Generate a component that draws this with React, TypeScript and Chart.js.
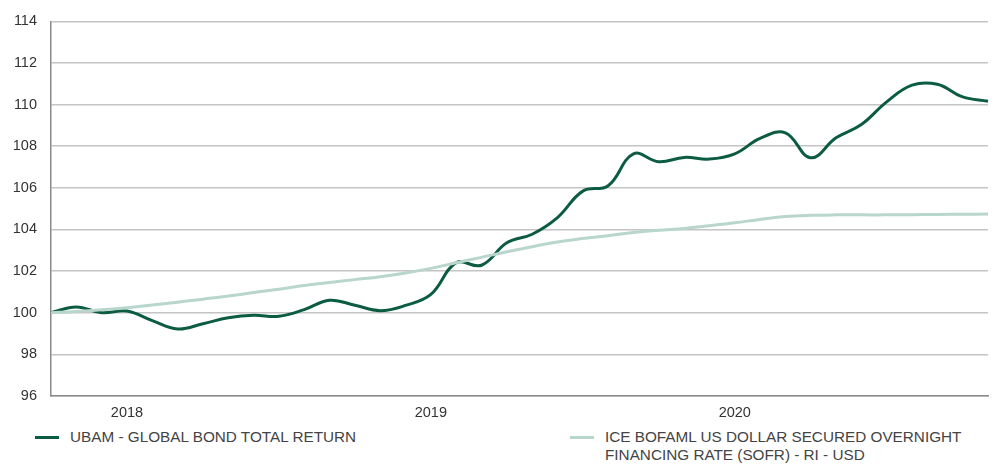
import React, { useEffect, useRef } from "react";
import { Chart, registerables } from "chart.js";

Chart.register(...registerables);

const months: string[] = [
  "Oct 2017", "Nov 2017", "Dec 2017",
  "Jan 2018", "Feb 2018", "Mar 2018", "Apr 2018", "May 2018", "Jun 2018",
  "Jul 2018", "Aug 2018", "Sep 2018", "Oct 2018", "Nov 2018", "Dec 2018",
  "Jan 2019", "Feb 2019", "Mar 2019", "Apr 2019", "May 2019", "Jun 2019",
  "Jul 2019", "Aug 2019", "Sep 2019", "Oct 2019", "Nov 2019", "Dec 2019",
  "Jan 2020", "Feb 2020", "Mar 2020", "Apr 2020", "May 2020", "Jun 2020",
  "Jul 2020", "Aug 2020", "Sep 2020", "Oct 2020", "Nov 2020",
];

const ubamValues: number[] = [
  100.0, 100.28, 100.0, 100.08, 99.62, 99.22, 99.47, 99.76, 99.88, 99.83,
  100.15, 100.6, 100.36, 100.1, 100.35, 100.88, 102.4, 102.28, 103.36, 103.77,
  104.57, 105.84, 106.1, 107.63, 107.25, 107.46, 107.38, 107.63, 108.37, 108.64,
  107.44, 108.4, 109.04, 110.13, 110.93, 110.97, 110.37, 110.16,
];

const sofrValues: number[] = [
  100.0, 100.06, 100.14, 100.24, 100.37, 100.5, 100.65, 100.8, 100.97, 101.13,
  101.31, 101.45, 101.59, 101.73, 101.91, 102.13, 102.4, 102.66, 102.93, 103.17,
  103.4, 103.56, 103.7, 103.85, 103.96, 104.05, 104.18, 104.32, 104.48, 104.62,
  104.68, 104.7, 104.7, 104.7, 104.71, 104.72, 104.73, 104.74,
];

const seriesNames: string[] = [
  "UBAM - GLOBAL BOND TOTAL RETURN",
  "ICE BOFAML US DOLLAR SECURED OVERNIGHT FINANCING RATE (SOFR) - RI - USD",
];

const DARK = "#0b5c40";
const LIGHT = "#b9d6ca";
const FONT = "'Liberation Sans', Arial, Helvetica, sans-serif";

export default function App() {
  const ref = useRef<HTMLCanvasElement | null>(null);

  useEffect(() => {
    if (!ref.current) return;
    const chart = new Chart(ref.current, {
      type: "line",
      data: {
        labels: months,
        datasets: [
          {
            label: seriesNames[1],
            data: sofrValues,
            borderColor: LIGHT,
            borderWidth: 3,
            pointRadius: 0,
            tension: 0.4,
            fill: false,
          },
          {
            label: seriesNames[0],
            data: ubamValues,
            borderColor: DARK,
            borderWidth: 3,
            pointRadius: 0,
            tension: 0.4,
            fill: false,
          },
        ],
      },
      options: {
        animation: false,
        responsive: false,
        maintainAspectRatio: false,
        layout: { padding: { top: 18, right: 9, left: 0, bottom: 0 } },
        plugins: {
          legend: { display: false },
          tooltip: { enabled: false },
        },
        scales: {
          x: {
            type: "category",
            offset: false,
            grid: { display: false, drawTicks: false },
            border: { display: true, color: "#8a8a8a", width: 1.5 },
            ticks: {
              autoSkip: false,
              maxRotation: 0,
              padding: 8,
              color: "#333",
              font: { family: FONT, size: 14.5 },
              callback: (_v: any, i: number) =>
                months[i].startsWith("Jan") ? months[i].slice(4) : "",
            },
            afterFit: (s: any) => {
              s.height = 29;
            },
          },
          y: {
            min: 96,
            max: 114,
            ticks: {
              stepSize: 2,
              padding: 14,
              color: "#333",
              font: { family: FONT, size: 14.5, lineHeight: 1 },
            },
            grid: { color: "#c4c4c4", lineWidth: 1.5, drawTicks: false },
            border: { display: true, color: "#8a8a8a", width: 1.5 },
            afterFit: (s: any) => {
              s.width = 51;
            },
          },
        },
      },
    });
    return () => chart.destroy();
  }, []);

  const legendStyle: React.CSSProperties = {
    position: "absolute",
    top: 428,
    display: "flex",
    alignItems: "flex-start",
    fontFamily: FONT,
    fontSize: 15.3,
    color: "#444",
    whiteSpace: "nowrap",
  };

  return (
    <div style={{ position: "absolute", left: 0, top: 0, width: 997, height: 464, background: "#fff" }}>
      <canvas ref={ref} width={997} height={425} style={{ display: "block" }} />
      <div style={{ ...legendStyle, left: 35 }}>
        <span style={{ display: "inline-block", width: 24, height: 3, background: DARK, marginTop: 8 }} />
        <span style={{ marginLeft: 11, lineHeight: "18px" }}>{seriesNames[0]}</span>
      </div>
      <div style={{ ...legendStyle, left: 570 }}>
        <span style={{ display: "inline-block", width: 24, height: 3, background: LIGHT, marginTop: 8 }} />
        <span style={{ marginLeft: 11, lineHeight: "18px" }}>
          ICE BOFAML US DOLLAR SECURED OVERNIGHT
          <br />
          FINANCING RATE (SOFR) - RI - USD
        </span>
      </div>
    </div>
  );
}
